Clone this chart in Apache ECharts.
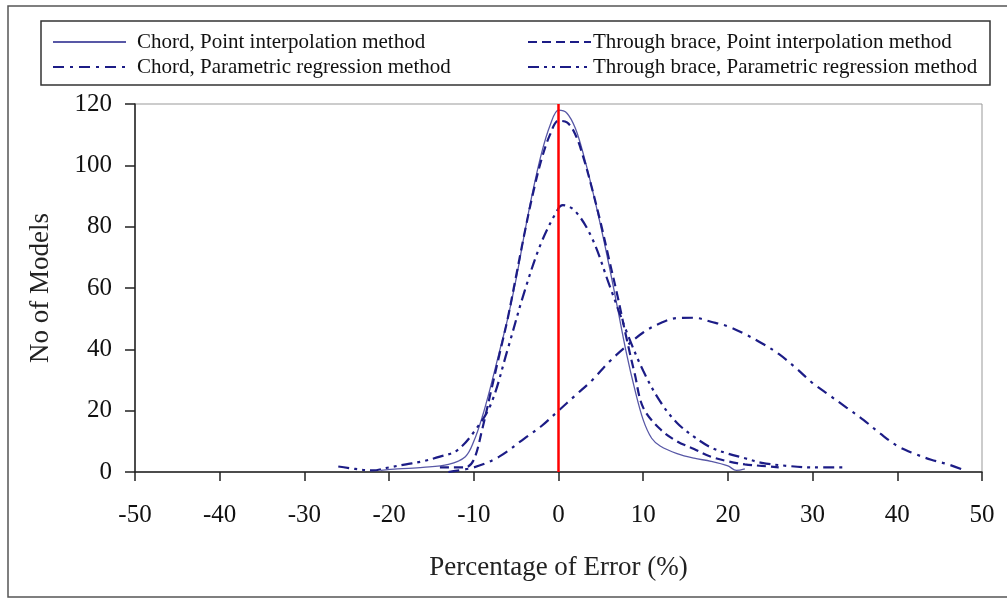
<!DOCTYPE html>
<html>
<head>
<meta charset="utf-8">
<script src="https://cdn.jsdelivr.net/npm/echarts@6/dist/echarts.min.js"></script>
<style>
html,body{margin:0;padding:0;background:#fff;}
#chart{width:1007px;height:599px;}
</style>
</head>
<body>
<div id="chart"></div>
<script>
// ---- Data ----
const seriesNames = [
  'Chord, Point interpolation method',
  'Through brace, Point interpolation method',
  'Chord, Parametric regression method',
  'Through brace, Parametric regression method'
];
const xTicks = [-50,-40,-30,-20,-10,0,10,20,30,40,50];
const yTicks = [0,20,40,60,80,100,120];

const chordPointX = [-21,-19,-16,-13,-11,-10,-9,-8,-7,-6,-5,-4,-3,-2,-1,0,1,2,3,4,5,6,7,8,9,10,11,12,14,16,18,20,21,22];
const chordPointY = [0.5,1,1.5,2.5,5,10,18,28,39,50,63,78,92,104,113,118,117,112,103,92,80,67,53,39,27,17,11,8.5,6,4.5,3.5,2,0.5,1];

const bracePointX = [-14,-13,-12,-11,-10,-9,-8,-7,-6,-5,-4,-3,-2,-1,0,1,2,3,4,5,6,7,8,9,10,12,14,16,18,20,22,24,26];
const bracePointY = [1.5,1.5,1.5,1.5,4,14,26,38,50,64,78,91,102,110,114.5,114,110,102,92,81,69,57,44,32,21,14,10,7.5,5,3.5,2.5,2,1.5];

const chordParamX = [-13,-10,-7,-4,-2,0,2,4,6,8,10,12,14,16,18,20,22,24,26,28,30,32,34,36,38,40,42,44,46,48];
const chordParamY = [0,1.5,5,11,15,20,25,30,36,41,45.5,48.5,50.2,50.3,49,47.5,45,42,38.5,34,29,25,21,17,12.5,8.5,6,4,2.5,0.5];

const braceParamX = [-26,-24,-22,-20,-18,-16,-14,-12,-10,-8,-6,-4,-2,0,0.5,2,4,6,8,10,12,14,16,18,20,22,24,27,30,34];
const braceParamY = [1.8,1,0.5,1.5,2.5,3.5,5,7,13,22,40,59,75,86,87,85,76,61,46,33,23,16,11.5,8,6,4.5,3,2,1.5,1.5];

function pairs(xs, ys){ return xs.map((x,i)=>[x, ys[i]]); }

const NAVY = '#1c1c86';
const FONT = 'Liberation Serif';

const chart = echarts.init(document.getElementById('chart'), null, {renderer:'canvas'});
const legendText1 = {fontFamily: FONT, fontSize: 21, color: '#111', lineHeight: 22, padding:[0,0,0,6]};
const legendText2 = {fontFamily: FONT, fontSize: 21, color: '#111', lineHeight: 22, padding:[0,0,0,-3]};
const noSym = {color:'rgba(0,0,0,0)', borderWidth:0, opacity:0};

chart.setOption({
  animation: false,
  backgroundColor: '#fff',
  graphic: [
    {type:'rect', shape:{x:8, y:6, width:1010, height:591}, style:{fill:'none', stroke:'#555', lineWidth:1.5}, silent:true, z:-1},
    {type:'rect', shape:{x:41, y:21, width:949, height:64}, style:{fill:'none', stroke:'#333', lineWidth:1.5}, silent:true, z:-1}
  ],
  legend: [
    {data:[seriesNames[0], seriesNames[2]], orient:'vertical', left:52, top:31, padding:0, itemGap:3, itemWidth:73, itemHeight:14, textStyle:legendText1, itemStyle:noSym},
    {data:[seriesNames[1], seriesNames[3]], orient:'vertical', left:527, top:31, padding:0, itemGap:3, itemWidth:63, itemHeight:14, textStyle:legendText2, itemStyle:noSym}
  ],
  grid: {left:135, right:25, top:104, bottom:127, show:true, borderColor:'#999', borderWidth:1, containLabel:false},
  xAxis: {
    type:'value', min:-50, max:50, interval:10,
    name:'Percentage of Error (%)', nameLocation:'middle', nameGap:82,
    nameTextStyle:{fontFamily:FONT, fontSize:27, color:'#222'},
    axisLine:{show:true, onZero:false, lineStyle:{color:'#222', width:1.5}},
    axisTick:{show:true, inside:false, length:9, lineStyle:{color:'#222', width:1.5}},
    axisLabel:{fontFamily:FONT, fontSize:25, color:'#111', margin:31,
      formatter: v => xTicks.includes(v) ? String(v) : ''},
    splitLine:{show:false}
  },
  yAxis: {
    type:'value', min:0, max:120, interval:20,
    name:'No of Models', nameLocation:'middle', nameGap:81, nameRotate:90,
    nameTextStyle:{fontFamily:FONT, fontSize:27, color:'#222'},
    axisLine:{show:true, onZero:false, lineStyle:{color:'#222', width:1.5}},
    axisTick:{show:true, inside:false, length:10, lineStyle:{color:'#222', width:1.5}},
    axisLabel:{fontFamily:FONT, fontSize:25, color:'#111', margin:23,
      formatter: v => yTicks.includes(v) ? String(v) : ''},
    splitLine:{show:false}
  },
  series: [
    {name:seriesNames[0], type:'line', data:pairs(chordPointX, chordPointY), smooth:0.35, showSymbol:false, symbol:'none',
     lineStyle:{color:'#5858a6', width:1.3, type:'solid'}, itemStyle:{color:'#5858a6'},
     markLine:{silent:true, symbol:['none','none'], label:{show:false}, data:[{xAxis:0}],
       lineStyle:{color:'#ff0000', width:2.5, type:'solid'}}, z:3},
    {name:seriesNames[1], type:'line', data:pairs(bracePointX, bracePointY), smooth:0.35, showSymbol:false, symbol:'none',
     lineStyle:{color:NAVY, width:2.2, type:[9,5]}, itemStyle:{color:NAVY}},
    {name:seriesNames[2], type:'line', data:pairs(chordParamX, chordParamY), smooth:0.35, showSymbol:false, symbol:'none',
     lineStyle:{color:NAVY, width:2.2, type:[11,6,3,6]}, itemStyle:{color:NAVY}},
    {name:seriesNames[3], type:'line', data:pairs(braceParamX, braceParamY), smooth:0.35, showSymbol:false, symbol:'none',
     lineStyle:{color:NAVY, width:2.2, type:[11,5,3,5,3,5]}, itemStyle:{color:NAVY}}
  ]
});
</script>
</body>
</html>
